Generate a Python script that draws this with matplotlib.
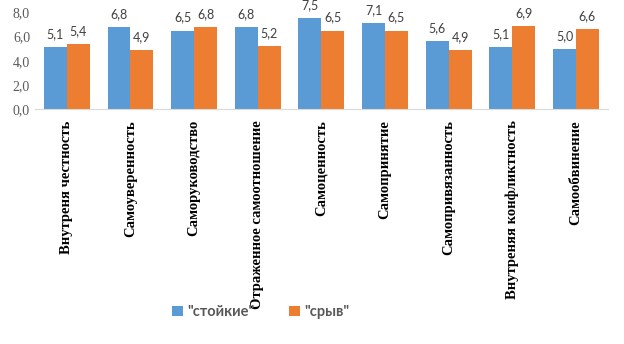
import matplotlib.pyplot as plt
import numpy as np

categories = ["Внутреня честность", "Самоуверенность", "Саморуководство",
              "Отраженное самоотношение", "Самоценность", "Самопринятие",
              "Самопривязанность", "Внутреняя конфликтность", "Самообвинение"]
stoikie = [5.1, 6.8, 6.5, 6.8, 7.5, 7.1, 5.6, 5.1, 5.0]
sryv = [5.4, 4.9, 6.8, 5.2, 6.5, 6.5, 4.9, 6.9, 6.6]
yticks = [0, 2, 4, 6, 8]

BLUE = "#5B9BD5"
ORANGE = "#ED7D31"

fig = plt.figure(figsize=(6.24, 3.44), dpi=100)
ax = fig.add_axes([0.056, 0.683, 0.918, 0.281])

x = np.arange(len(categories))
w = 0.36
b1 = ax.bar(x - w / 2, stoikie, w, color=BLUE, label='"стойкие"')
b2 = ax.bar(x + w / 2, sryv, w, color=ORANGE, label='"срыв"')

for bars, vals in ((b1, stoikie), (b2, sryv)):
    for rect, v in zip(bars, vals):
        ax.annotate("{:.1f}".format(v).replace(".", ","),
                    (rect.get_x() + rect.get_width() / 2, v),
                    xytext=(0, 5), textcoords="offset points",
                    ha="center", va="bottom", fontsize=9, color="#404040",
                    family="Lato")

ax.set_xlim(-0.5, len(categories) - 0.5)
ax.set_ylim(0, 8)
ax.set_yticks(yticks)
ax.set_yticklabels(["{:.1f}".format(t).replace(".", ",") for t in yticks],
                   family="Liberation Serif", fontsize=10, color="#595959")
ax.set_xticks(x)
ax.set_xticklabels(categories, rotation=90, family="Liberation Serif",
                   fontweight="bold", fontsize=10.5, va="top")
ax.tick_params(axis="both", length=0)
ax.tick_params(axis="x", pad=8)
for s in ("top", "right", "left"):
    ax.spines[s].set_visible(False)
ax.spines["bottom"].set_color("#D9D9D9")

leg = fig.legend(handles=[b1, b2], loc="center", bbox_to_anchor=(0.418, 0.093),
                 ncol=2, frameon=False, handlelength=0.75, handleheight=0.75,
                 columnspacing=2.4, handletextpad=0.3,
                 prop={"family": "Lato", "weight": "bold", "size": 10.5})
for t in leg.get_texts():
    t.set_color("#595959")

fig.savefig("out.png", dpi=100)
